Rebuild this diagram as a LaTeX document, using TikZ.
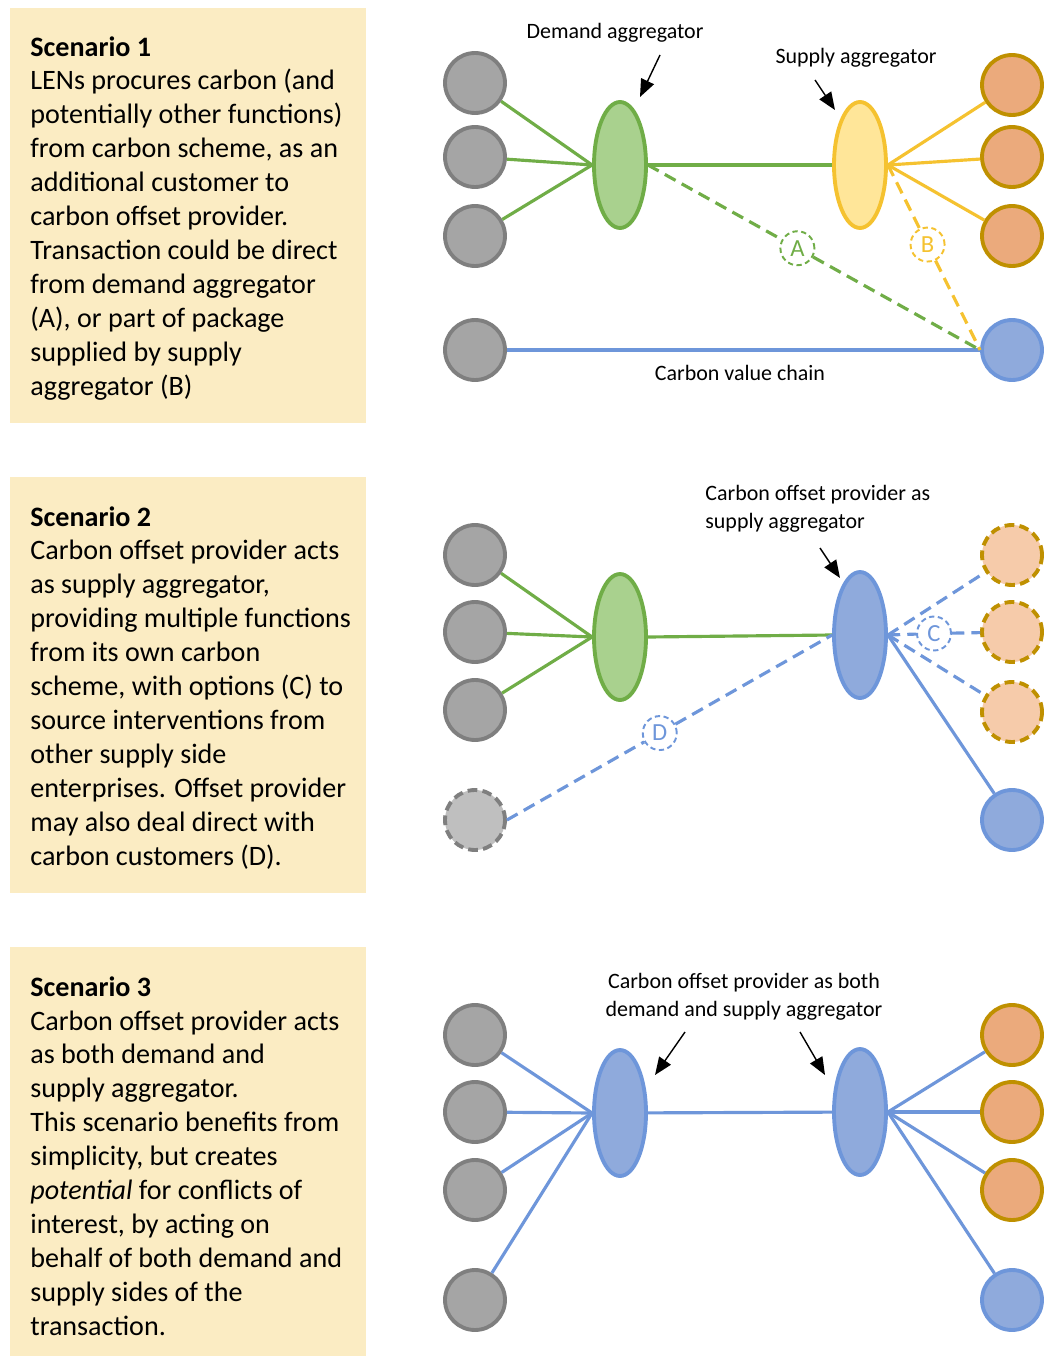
\documentclass[tikz,border=0pt]{standalone}
\usepackage{fontspec}
\setmainfont{Carlito}
\usetikzlibrary{calc,arrows.meta,shapes.geometric}

\definecolor{boxfill}{HTML}{FBECC3}
\definecolor{grayfill}{HTML}{A5A5A5}
\definecolor{graydraw}{HTML}{7F7F7F}
\definecolor{lightgray}{HTML}{BFBFBF}
\definecolor{greenfill}{HTML}{A9D18E}
\definecolor{greendraw}{HTML}{70AD47}
\definecolor{yellowfill}{HTML}{FFE699}
\definecolor{yellowdraw}{HTML}{F5C230}
\definecolor{orangefill}{HTML}{EBAA7C}
\definecolor{paleorange}{HTML}{F6CBAA}
\definecolor{orangedraw}{HTML}{BF9000}
\definecolor{bluefill}{HTML}{8FAADC}
\definecolor{bluedraw}{HTML}{6E96DA}

\begin{document}
\begin{tikzpicture}[x=0.02cm, y=-0.02cm, >=Stealth,
  panel/.style={fill=boxfill, draw=none},
  scenario/.style={anchor=north west, inner sep=0pt, align=left,
    font=\fontsize{16}{19.3}\selectfont},
  label/.style={font=\fontsize{12.5}{15.9}\selectfont, inner sep=0pt},
  party/.style={circle, minimum size=1.2cm, line width=2.2pt, inner sep=0pt},
  customer/.style={party, fill=grayfill, draw=graydraw},
  supplier/.style={party, fill=orangefill, draw=orangedraw},
  offset/.style={party, fill=bluefill, draw=bluedraw},
  maybe/.style={dash pattern=on 5.5pt off 3pt},
  aggr/.style={ellipse, minimum width=1.04cm, minimum height=2.52cm, line width=2.2pt, inner sep=0pt},
  option/.style={circle, dash pattern=on 3pt off 2pt, fill=white, minimum size=0.68cm, inner sep=0pt,
    line width=1.1pt, font=\fontsize{14}{16}\selectfont},
  link/.style={line width=1.8pt},
  indirect/.style={link, dash pattern=on 7pt off 4pt},
  pointer/.style={-{Triangle[length=10pt, width=8pt]}, line width=0.8pt, black}
]
  \useasboundingbox (0,0) rectangle (1054,1358);

  % Scenario text panels
  \fill[panel] (10,8) rectangle (366,423);
  \fill[panel] (10,477) rectangle (366,893);
  \fill[panel] (10,947) rectangle (366,1356);

  \node[scenario] (txt1) at (30,36) {\textbf{Scenario 1}\\
    LENs procures carbon (and\\
    potentially other functions)\\
    from carbon scheme, as an\\
    additional customer to\\
    carbon offset provider.\\
    Transaction could be direct\\
    from demand aggregator\\
    (A), or part of package\\
    supplied by supply\\
    aggregator (B)};
  \node[scenario] (txt2) at (30,506) {\textbf{Scenario 2}\\
    Carbon offset provider acts\\
    as supply aggregator,\\
    providing multiple functions\\
    from its own carbon\\
    scheme, with options (C) to\\
    source interventions from\\
    other supply side\\
    enterprises. Offset provider\\
    may also deal direct with\\
    carbon customers (D).};
  \node[scenario] (txt3) at (30,976) {\textbf{Scenario 3}\\
    Carbon offset provider acts\\
    as both demand and\\
    supply aggregator.\\
    This scenario benefits from\\
    simplicity, but creates\\
    \textit{potential} for conflicts of\\
    interest, by acting on\\
    behalf of both demand and\\
    supply sides of the\\
    transaction.};

  % Scenario 1
  \foreach \i/\y in {1/83, 2/157, 3/236, 4/350} {
    \node[customer] (a\i) at (475,\y) {};
  }
  \foreach \i/\y in {1/85, 2/157, 3/236} {
    \node[supplier] (s\i) at (1012,\y) {};
  }
  \node[offset] (cop1) at (1012,350) {};
  \node[aggr, fill=greenfill, draw=greendraw] (dagg1) at (620,165) {};
  \node[aggr, fill=yellowfill, draw=yellowdraw] (sagg1) at (860,165) {};

  \foreach \i in {1,2,3} {
    \draw[link, greendraw] (a\i) -- (dagg1.west);
    \draw[link, yellowdraw] (sagg1.east) -- (s\i);
  }
  \draw[link, greendraw] (dagg1) -- (sagg1);
  \draw[link, bluedraw] (a4) -- (cop1);

  \node[option, draw=greendraw, text=greendraw] (optA) at ($(dagg1.east)!0.45!(cop1.west)$) {A};
  \node[option, draw=yellowdraw, text=yellowdraw] (optB) at ($(sagg1.east)!0.43!(cop1.west)$) {B};
  \draw[indirect, greendraw] (dagg1.east) -- (optA) (optA) -- (cop1.west);
  \draw[indirect, yellowdraw] (sagg1.east) -- (optB) (optB) -- (cop1.west);

  \node[label] (lblD1) at (615,33) {Demand aggregator};
  \node[label] (lblS1) at (856,58) {Supply aggregator};
  \node[label] (lblV1) at (740,373) {Carbon value chain};
  \coordinate (pd1) at (660,55);
  \coordinate (pd2) at (640,97);
  \coordinate (ps1) at (815,80);
  \coordinate (ps2) at (835,110);
  \draw[pointer] (pd1) -- (pd2);
  \draw[pointer] (ps1) -- (ps2);

  % Scenario 2
  \foreach \i/\y in {1/555, 2/632, 3/710} {
    \node[customer] (b\i) at (475,\y) {};
  }
  \node[party, fill=lightgray, draw=graydraw, maybe] (b4) at (475,820) {};
  \foreach \i/\y in {1/555, 2/632, 3/712} {
    \node[party, fill=paleorange, draw=orangedraw, maybe] (t\i) at (1012,\y) {};
  }
  \node[offset] (cop2) at (1012,820) {};
  \node[aggr, fill=greenfill, draw=greendraw] (dagg2) at (620,637) {};
  \node[aggr, fill=bluefill, draw=bluedraw] (pagg2) at (860,635) {};

  \foreach \i in {1,2,3} {
    \draw[link, greendraw] (b\i) -- (dagg2.west);
  }
  \draw[link, greendraw] (dagg2.east) -- (pagg2.west);
  \draw[indirect, bluedraw] (pagg2.east) -- (t1);
  \draw[indirect, bluedraw] (pagg2.east) -- (t3);
  \node[option, draw=bluedraw, text=bluedraw] (optC) at ($(pagg2.east)!0.5!(t2.west)$) {C};
  \draw[indirect, bluedraw] (pagg2.east) -- (optC) (optC) -- (t2);
  \draw[link, bluedraw] (pagg2.east) -- (cop2);
  \node[option, draw=bluedraw, text=bluedraw] (optD) at ($(b4.east)!0.47!(pagg2.west)$) {D};
  \draw[indirect, bluedraw] (b4.east) -- (optD) (optD) -- (pagg2.west);

  \node[label, align=left, anchor=north west] (lblP2) at (705,485) {Carbon offset provider as\\supply aggregator};
  \coordinate (pp1) at (820,548);
  \coordinate (pp2) at (840,578);
  \draw[pointer] (pp1) -- (pp2);

  % Scenario 3
  \foreach \i/\y in {1/1035, 2/1112, 3/1190, 4/1300} {
    \node[customer] (c\i) at (475,\y) {};
  }
  \foreach \i/\y in {1/1035, 2/1112, 3/1190} {
    \node[supplier] (u\i) at (1012,\y) {};
  }
  \node[offset] (cop3) at (1012,1300) {};
  \node[aggr, fill=bluefill, draw=bluedraw] (dagg3) at (620,1113) {};
  \node[aggr, fill=bluefill, draw=bluedraw] (sagg3) at (860,1112) {};

  \foreach \i in {1,2,3,4} {
    \draw[link, bluedraw] (c\i) -- (dagg3.west);
  }
  \foreach \i in {1,2,3} {
    \draw[link, bluedraw] (sagg3.east) -- (u\i);
  }
  \draw[link, bluedraw] (sagg3.east) -- (cop3);
  \draw[link, bluedraw] (dagg3) -- (sagg3);

  \node[label, align=center] (lblB3) at (744,997) {Carbon offset provider as both\\demand and supply aggregator};
  \coordinate (pb1) at (685,1032);
  \coordinate (pb2) at (655,1075);
  \coordinate (pb3) at (800,1032);
  \coordinate (pb4) at (825,1075);
  \draw[pointer] (pb1) -- (pb2);
  \draw[pointer] (pb3) -- (pb4);

\end{tikzpicture}
\end{document}
